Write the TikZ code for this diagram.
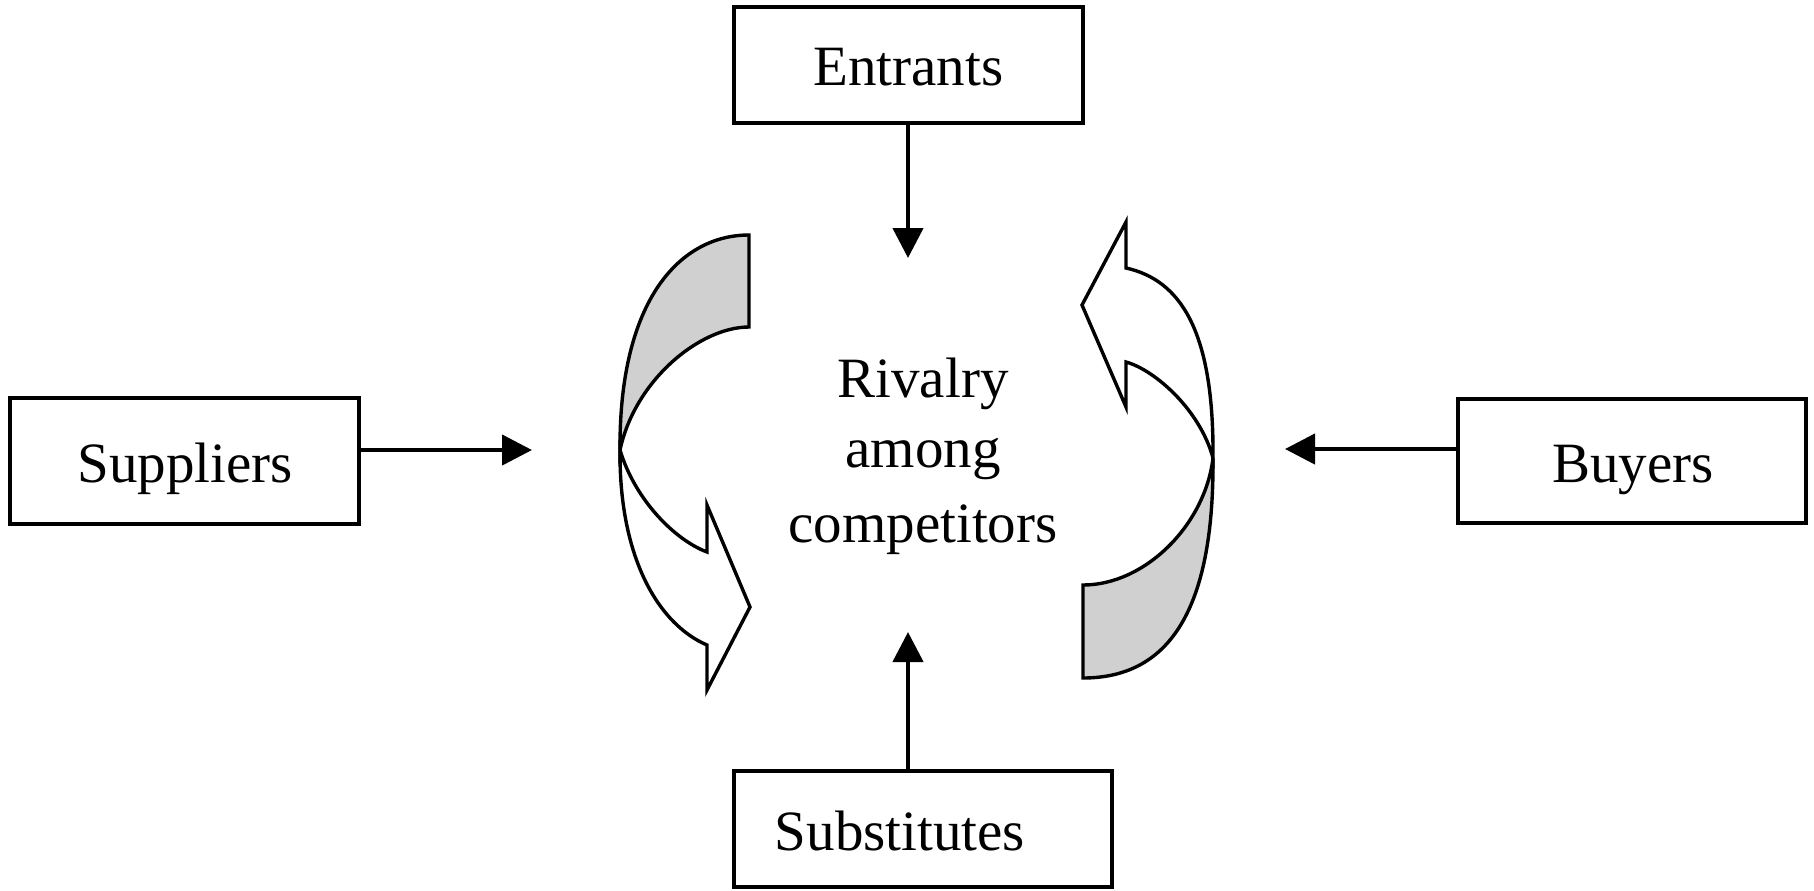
\documentclass[tikz,border=0pt]{standalone}
\usepackage{fontspec}
\setmainfont{Liberation Serif}
\usetikzlibrary{arrows.meta}
\definecolor{bandgrey}{RGB}{208,208,208}
\begin{document}
\begin{tikzpicture}[x=0.5pt,y=-0.5pt,
  box/.style={draw=black,line width=1.8pt,inner sep=0pt,fill=white},
  lbl/.style={inner sep=0pt,anchor=base,font=\fontsize{28.5}{36}\selectfont},
  arr/.style={line width=2.2pt,-{Triangle[width=15pt,length=15pt]}},
  curved/.style={draw=black,line width=1.7pt,line join=miter}]
\useasboundingbox (0,0) rectangle (1814,890);

% boxes
\node[box,minimum width=174.5pt,minimum height=58pt] (ent) at (908.5,65) {};
\node[box,minimum width=189pt,minimum height=58pt] (sub) at (923,829) {};
\node[box,minimum width=174.5pt,minimum height=63pt] (sup) at (184.5,461) {};
\node[box,minimum width=174pt,minimum height=62pt] (buy) at (1632,461) {};

% labels
\node[lbl] (entT) at (908.5,85) {Entrants};
\node[lbl] (subT) at (900,850) {Substitutes};
\node[lbl] (supT) at (185,482) {Suppliers};
\node[lbl] (buyT) at (1633,482) {Buyers};
\node[lbl] (rivA) at (923,397) {Rivalry};
\node[lbl] (rivB) at (923,467) {among};
\node[lbl] (rivC) at (923,542) {competitors};

% arrow tips
\coordinate (entTip) at (908,258);
\coordinate (subTip) at (908,632);
\coordinate (supTip) at (532,450);
\coordinate (buyTip) at (1285,449);

\draw[arr] (ent.south -| entTip) -- (entTip);
\draw[arr] (sub.north -| subTip) -- (subTip);
\draw[arr] (sup.east |- supTip) -- (supTip);
\draw[arr] (buy.west |- buyTip) -- (buyTip);

% left curved arrow
\coordinate (XL) at (620,450);
\filldraw[curved,fill=bandgrey] (749,235) .. controls (680,235) and (619,300) .. (XL)
  .. controls (635,380) and (700,327) .. (749,327) -- cycle;
\filldraw[curved,fill=white] (XL) .. controls (619,560) and (660,625) .. (707,645)
  -- (707,690) -- (750,607) -- (707,505) -- (707,552)
  .. controls (675,540) and (635,500) .. (XL) -- cycle;

% right curved arrow
\coordinate (XR) at (1213,458);
\filldraw[curved,fill=white] (1126,268) .. controls (1180,280) and (1214,330) .. (XR)
  .. controls (1200,410) and (1155,370) .. (1126,362)
  -- (1126,407) -- (1082,305) -- (1126,222) -- cycle;
\filldraw[curved,fill=bandgrey] (XR) .. controls (1214,600) and (1175,678) .. (1083,678)
  -- (1083,585) .. controls (1145,585) and (1205,525) .. (XR) -- cycle;
\end{tikzpicture}
\end{document}
